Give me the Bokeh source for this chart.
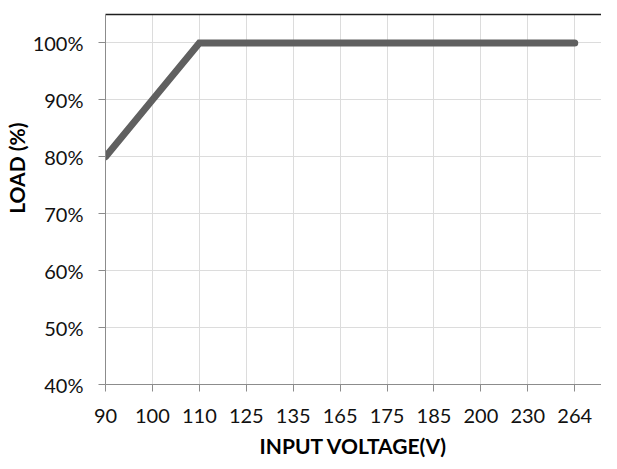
from bokeh.plotting import figure
from bokeh.models import FixedTicker, PrintfTickFormatter, Range1d, Title, LinearAxis
from bokeh.embed import file_html
from bokeh.resources import INLINE

# ---- data ----
voltage = ["90", "100", "110", "125", "135", "165", "175", "185", "200", "230", "264"]
load = [80, 90, 100, 100, 100, 100, 100, 100, 100, 100, 100]
y_ticks = [40, 50, 60, 70, 80, 90, 100]
x_label = "INPUT VOLTAGE(V)"
y_label = "LOAD (%)"

xs = list(range(len(voltage)))
FONT = "Lato"

p = figure(width=601, height=460, output_backend="svg", toolbar_location=None,
           x_range=Range1d(0, 10.57), y_range=Range1d(40, 105),
           min_border_left=98, min_border_right=0, min_border_top=14,
           min_border_bottom=76)
p.outline_line_color = None
p.background_fill_color = "white"
p.border_fill_color = "white"

p.line(xs, load, line_color="#606060", line_width=7, line_cap="round", line_join="miter")

xax = p.below[0]
yax = p.left[0]
for ax in (xax, yax):
    ax.axis_line_color = "#8c8c8c"
    ax.major_tick_line_color = "#8c8c8c"
    ax.major_tick_out = 7
    ax.major_tick_in = 0
    ax.minor_tick_line_color = None
    ax.major_label_text_font = FONT
    ax.major_label_text_font_size = "20px"
    ax.major_label_text_color = "#111111"

xax.ticker = FixedTicker(ticks=xs)
xax.major_label_overrides = {i: v for i, v in enumerate(voltage)}
xax.major_label_standoff = 17
xax.axis_label = x_label
xax.axis_label_text_font = FONT
xax.axis_label_text_font_style = "bold"
xax.axis_label_text_font_size = "21px"
xax.axis_label_text_color = "black"
xax.axis_label_standoff = 7

yax.ticker = FixedTicker(ticks=y_ticks)
yax.formatter = PrintfTickFormatter(format="%d%%")
yax.major_label_standoff = 15

# top border as an unlabeled axis
top = LinearAxis(axis_line_color="#1e1e1e", axis_line_width=1.5,
                 ticker=FixedTicker(ticks=[]),
                 major_tick_line_color=None, minor_tick_line_color=None,
                 major_tick_out=0, major_tick_in=0,
                 major_label_text_font_size="0px", major_label_standoff=0)
p.add_layout(top, "above")

p.add_layout(Title(text=y_label, align="right", offset=108, text_font=FONT,
                   text_font_style="bold", text_font_size="21px", text_color="black",
                   standoff=2), "left")

p.xgrid.ticker = FixedTicker(ticks=xs)
p.ygrid.ticker = FixedTicker(ticks=y_ticks)
p.grid.grid_line_color = "#dcdcdc"
p.grid.grid_line_width = 1

open("out.html", "w").write(file_html(p, INLINE))
